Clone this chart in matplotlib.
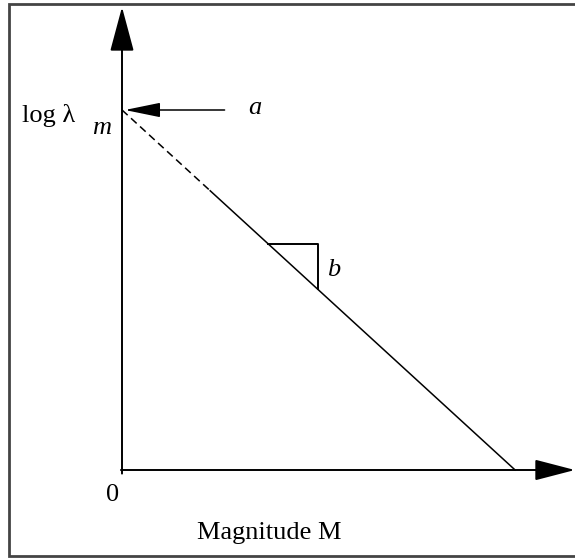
import matplotlib.pyplot as plt

# Diagram values (data units: origin at 0,0)
intercept_a = 1.0            # log lambda_m
m_end = 1.092                # magnitude where the line reaches zero
dash_end = 0.245             # extrapolated (dashed) part of the line
tri_m = [0.406, 0.544]       # slope triangle extent along M

x_label = "Magnitude M"
origin_label = "0"

plt.rcParams['font.family'] = ['Liberation Serif', 'DejaVu Serif']

fig = plt.figure(figsize=(5.75, 5.58), dpi=100)
ax = fig.add_axes([0, 0, 1, 1])
ax.set_xlim(-122 / 360, 453 / 360)
ax.set_ylim(-88 / 360, 470 / 360)
ax.axis('off')

slope = -intercept_a / m_end


def line_y(m):
    return intercept_a + slope * m


# frame around the figure (open on the right, runs off the edge)
ax.plot([1.4, -0.314, -0.314, 1.4], [1.295, 1.295, -0.239, -0.239],
        color='#444444', lw=2.0, clip_on=False, solid_joinstyle='miter')

# axes with arrowheads
arrow_kw = dict(arrowstyle='-|>,head_length=2.8,head_width=0.75',
                mutation_scale=10, color='black', lw=1.4, shrinkA=0, shrinkB=0)
ax.annotate('', xy=(0, 1.286), xytext=(0, -0.01), arrowprops=arrow_kw)
ax.annotate('', xy=(1.258, 0), xytext=(-0.003, 0),
            arrowprops=dict(arrow_kw, arrowstyle='-|>,head_length=2.5,head_width=0.65'))

# the relation line: dashed extrapolation, then solid
ax.plot([0, dash_end], [line_y(0), line_y(dash_end)], color='black', lw=1.1,
        ls=(0, (5, 3)))
ax.plot([dash_end, m_end], [line_y(dash_end), 0], color='black', lw=1.1)

# slope triangle
ax.plot([tri_m[0], tri_m[1], tri_m[1]],
        [line_y(tri_m[0]), line_y(tri_m[0]), line_y(tri_m[1])],
        color='black', lw=1.4)
ax.text(tri_m[1] + 0.025, (line_y(tri_m[0]) + line_y(tri_m[1])) / 2 - 0.01, 'b',
        style='italic', fontsize=19, ha='left', va='center')

# intercept arrow labelled a
ax.annotate('', xy=(0.008, intercept_a), xytext=(0.285, intercept_a),
            arrowprops=dict(arrowstyle='-|>,head_length=2.2,head_width=0.45',
                            mutation_scale=10, color='black', lw=1.1,
                            shrinkA=0, shrinkB=0))
ax.text(0.35, intercept_a + 0.005, 'a', style='italic', fontsize=19,
        ha='left', va='center')

# y label
ax.text(-0.278, intercept_a - 0.015, 'log \u03bb', fontsize=19, ha='left', va='center')
ax.text(-0.083, intercept_a - 0.05, 'm', style='italic', fontsize=19,
        ha='left', va='center')

# x labels
ax.text(-0.025, -0.07, origin_label, fontsize=19, ha='center', va='center')
ax.text(0.408, -0.175, x_label, fontsize=19, ha='center', va='center')

fig.savefig('out.png', dpi=100)
